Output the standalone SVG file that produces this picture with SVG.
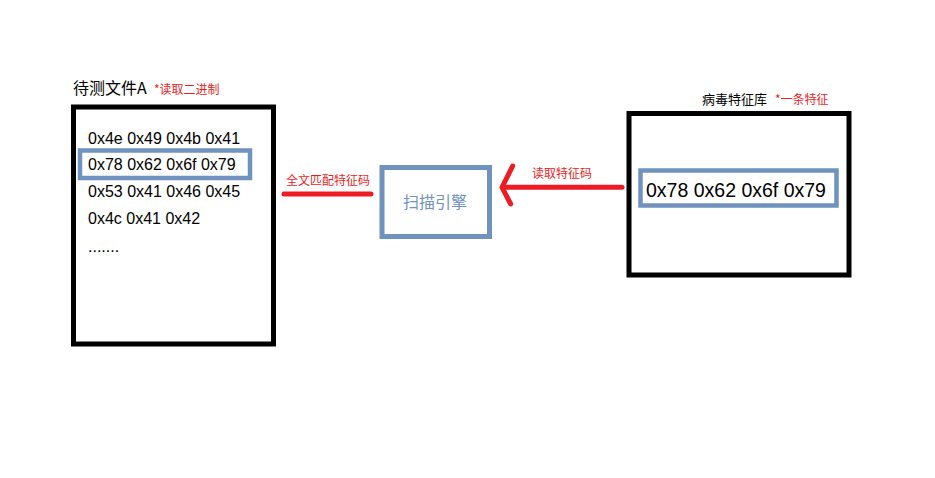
<svg xmlns="http://www.w3.org/2000/svg" width="935" height="478" viewBox="0 0 935 478">
<style>
.t{font-family:"Liberation Sans","Noto Sans CJK SC",sans-serif;}
.cn{font-family:"Noto Sans CJK SC","Liberation Sans",sans-serif;}
.blk{fill:none;stroke:#000;stroke-width:5;}
.blu{fill:none;stroke:#7092be;stroke-width:4.5;}
.red{fill:none;stroke:#ed1c24;stroke-width:5;stroke-linecap:round;stroke-linejoin:round;}
.rl{fill:#ed1c24;font-size:12px;}
.hex{fill:#000;font-size:16px;}
</style>
<rect width="935" height="478" fill="#fff"/>
<g id="file">
<text class="cn" x="73" y="94" font-size="16" fill="#000">待测文件A</text>
<text class="cn rl" x="154" y="94" font-size="11.5">*读取二进制</text>
<rect class="blk" x="73.5" y="107" width="200" height="237"/>
<rect class="blu" x="80" y="150.5" width="170" height="27.5"/>
<text class="t hex" x="88" y="144">0x4e 0x49 0x4b 0x41</text>
<text class="t hex" x="88" y="170">0x78 0x62 0x6f 0x79</text>
<text class="t hex" x="88" y="197">0x53 0x41 0x46 0x45</text>
<text class="t hex" x="88" y="224">0x4c 0x41 0x42</text>
<text class="t hex" x="88" y="252">.......</text>
</g>
<g id="engine">
<rect x="382" y="167.5" width="107.5" height="69" fill="none" stroke="#7092be" stroke-width="5"/>
<text class="cn" x="435" y="208" font-size="16" fill="#7092be" text-anchor="middle">扫描引擎</text>
</g>
<g id="library">
<text class="cn" x="702" y="104" font-size="13" fill="#000">病毒特征库</text>
<text class="cn rl" x="775" y="104">*一条特征</text>
<rect class="blk" x="629" y="113.5" width="220" height="161.5"/>
<rect class="blu" x="640.5" y="170.5" width="196" height="35"/>
<text class="t" x="646" y="197" font-size="19.5" fill="#000">0x78 0x62 0x6f 0x79</text>
</g>
<g id="connectors">
<line class="red" x1="284" y1="194" x2="371" y2="194"/>
<text class="cn rl" x="328" y="185" text-anchor="middle">全文匹配特征码</text>
<line class="red" x1="622" y1="187.3" x2="503" y2="187.3"/>
<polyline class="red" points="512.7,166 502,187.3 510.7,204"/>
<text class="cn rl" x="562" y="178" text-anchor="middle">读取特征码</text>
</g>
</svg>
